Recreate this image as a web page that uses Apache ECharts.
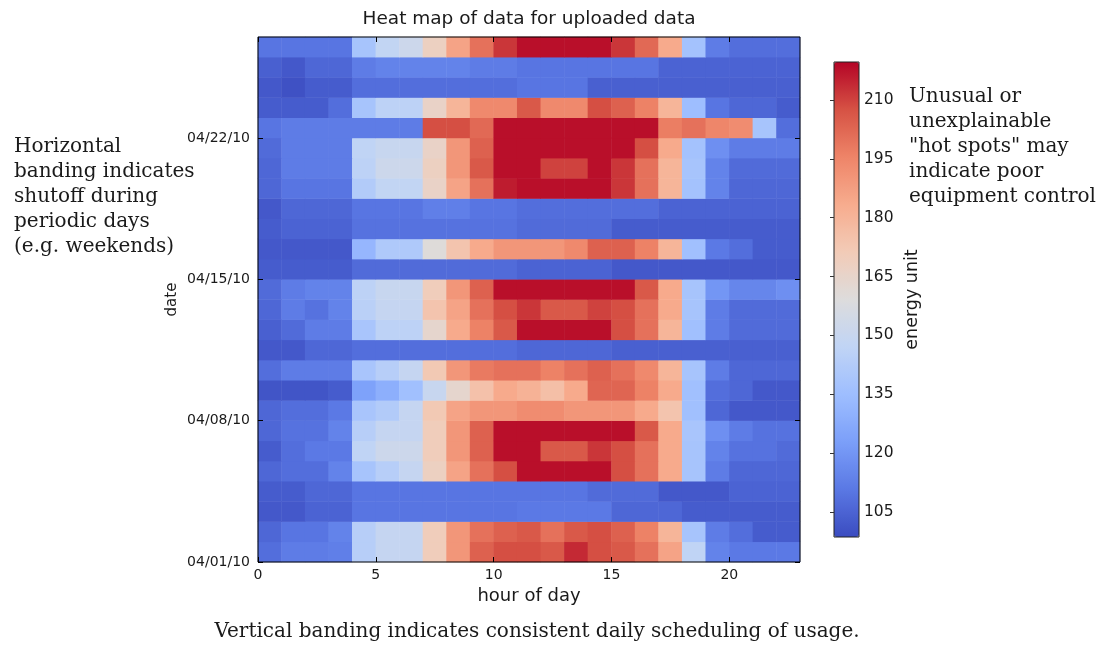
<!DOCTYPE html>
<html>
<head>
<meta charset="utf-8">
<script src="https://cdn.jsdelivr.net/npm/echarts@6/dist/echarts.min.js"></script>
<style>
  html, body { margin: 0; padding: 0; background: #fff; }
  #chart { width: 1102px; height: 645px; }
</style>
</head>
<body>
<div id="chart"></div>
<script>
// hour columns (0..22) and one row per day
const hours = [0, 1, 2, 3, 4, 5, 6, 7, 8, 9, 10, 11, 12, 13, 14, 15, 16, 17, 18, 19, 20, 21, 22];
const days = ["04/01/10", "04/02/10", "04/03/10", "04/04/10", "04/05/10", "04/06/10", "04/07/10",
  "04/08/10", "04/09/10", "04/10/10", "04/11/10", "04/12/10", "04/13/10", "04/14/10", "04/15/10",
  "04/16/10", "04/17/10", "04/18/10", "04/19/10", "04/20/10", "04/21/10", "04/22/10", "04/23/10",
  "04/24/10", "04/25/10", "04/26/10"];

// energy per hour, one row per day (bottom row first)
const energyByDay = [
  [108, 112, 112, 113, 144, 149, 149, 170, 190, 204, 208, 208, 206, 214, 208, 206, 200, 186, 147, 114, 111, 111, 111], // 04/01
  [106, 110, 110, 114, 144, 149, 149, 170, 190, 200, 204, 206, 200, 206, 208, 204, 196, 180, 138, 112, 108, 103, 103], // 04/02
  [102, 102, 105, 105, 110, 110, 110, 110, 110, 110, 110, 111, 111, 111, 111, 106, 106, 106, 103, 103, 103, 103, 103], // 04/03
  [103, 103, 106, 106, 110, 110, 110, 110, 110, 110, 110, 110, 110, 110, 107, 107, 107, 102, 102, 102, 105, 105, 105], // 04/04
  [106, 108, 108, 114, 138, 144, 149, 168, 186, 200, 208, 218, 218, 218, 218, 208, 200, 184, 138, 112, 106, 106, 106], // 04/05
  [103, 108, 111, 111, 147, 152, 152, 170, 190, 204, 218, 218, 206, 206, 212, 208, 200, 184, 138, 114, 109, 109, 107], // 04/06
  [106, 109, 109, 114, 144, 149, 149, 170, 190, 204, 218, 218, 218, 218, 218, 218, 206, 184, 139, 118, 112, 109, 109], // 04/07
  [106, 108, 108, 111, 139, 142, 149, 172, 186, 190, 190, 193, 193, 190, 190, 190, 184, 174, 136, 106, 102, 102, 102], // 04/08
  [101, 101, 101, 103, 124, 129, 136, 150, 164, 175, 184, 181, 176, 184, 203, 203, 196, 184, 136, 108, 106, 102, 102], // 04/09
  [108, 112, 112, 112, 139, 144, 149, 172, 190, 198, 200, 200, 196, 200, 204, 200, 194, 180, 138, 112, 106, 106, 106], // 04/10
  [102, 102, 106, 106, 108, 108, 108, 108, 108, 108, 108, 106, 106, 106, 106, 104, 104, 104, 104, 104, 104, 104, 104], // 04/11
  [104, 107, 112, 112, 139, 146, 146, 164, 184, 196, 206, 218, 218, 218, 218, 208, 200, 180, 136, 112, 107, 107, 107], // 04/12
  [106, 112, 109, 114, 145, 149, 149, 174, 186, 200, 208, 212, 206, 206, 210, 208, 200, 184, 138, 112, 107, 107, 107], // 04/13
  [107, 112, 114, 114, 146, 150, 150, 170, 190, 204, 218, 218, 218, 218, 218, 218, 206, 184, 138, 120, 115, 115, 118], // 04/14
  [103, 103, 103, 103, 107, 107, 107, 107, 107, 107, 107, 105, 105, 105, 105, 102, 102, 102, 102, 102, 102, 102, 102], // 04/15
  [102, 102, 102, 102, 132, 141, 141, 160, 174, 184, 190, 190, 190, 194, 204, 204, 196, 180, 136, 111, 108, 103, 103], // 04/16
  [103, 105, 105, 105, 109, 109, 109, 109, 109, 109, 109, 107, 107, 107, 107, 103, 103, 103, 103, 103, 103, 103, 103], // 04/17
  [102, 106, 106, 106, 110, 110, 110, 113, 113, 110, 110, 108, 108, 108, 108, 108, 108, 105, 105, 105, 105, 105, 105], // 04/18
  [106, 110, 110, 110, 142, 148, 148, 166, 186, 200, 216, 218, 218, 218, 218, 212, 200, 180, 137, 114, 106, 106, 106], // 04/19
  [106, 112, 112, 112, 146, 152, 152, 168, 190, 206, 218, 218, 210, 210, 218, 212, 200, 180, 138, 114, 107, 107, 107], // 04/20
  [107, 112, 112, 112, 147, 150, 150, 166, 190, 204, 218, 218, 218, 218, 218, 218, 208, 184, 137, 118, 112, 112, 112], // 04/21
  [110, 112, 112, 112, 112, 112, 112, 208, 208, 202, 218, 218, 218, 218, 218, 218, 218, 197, 200, 195, 193, 138, 108], // 04/22
  [103, 103, 103, 108, 138, 146, 146, 166, 180, 194, 194, 206, 194, 194, 208, 204, 196, 180, 135, 110, 106, 106, 103], // 04/23
  [102, 100, 103, 103, 108, 108, 108, 108, 108, 108, 108, 110, 110, 110, 104, 104, 104, 104, 104, 104, 104, 104, 104], // 04/24
  [104, 102, 106, 106, 112, 114, 114, 114, 114, 112, 112, 110, 110, 110, 110, 110, 110, 105, 105, 105, 105, 105, 105], // 04/25
  [110, 110, 110, 110, 138, 148, 152, 168, 186, 200, 212, 218, 218, 218, 218, 212, 202, 184, 137, 112, 108, 108, 108]  // 04/26
];

const hourTicks = [0, 5, 10, 15, 20];
const dateTickPos = [0, 7, 14, 21];
const dateTickLabels = ["04/01/10", "04/08/10", "04/15/10", "04/22/10"];
const colorTicks = [105, 120, 135, 150, 165, 180, 195, 210];
const colorMin = 98.6;
const colorMax = 219.7;

// matplotlib coolwarm
const coolwarm = ["#3b4cc0", "#5a78e4", "#7b9ff9", "#9ebeff", "#c0d4f5", "#dddcdc",
  "#f2cbb7", "#f7ac8e", "#ee8468", "#d65244", "#b40426"];

const cells = [];
energyByDay.forEach(function (row, d) {
  row.forEach(function (v, h) {
    cells.push([h, d, v]);
  });
});

const sans = "DejaVu Sans";
const serif = "DejaVu Serif";
const ink = "#1a1a1a";

function txt(x, y, text, font, align, extra) {
  return {
    type: "text",
    x: x,
    y: y,
    z: 20,
    style: Object.assign({
      text: text,
      font: font,
      fill: ink,
      textAlign: align,
      align: align,
      textVerticalAlign: "middle",
      verticalAlign: "middle"
    }, extra || {})
  };
}

const option = {
  animation: false,
  backgroundColor: "#fff",
  grid: [
    { left: 258, top: 37, width: 542, height: 525, show: true, z: 10,
      borderColor: "#000", borderWidth: 1, backgroundColor: "transparent" },
    { left: 834, top: 62, width: 25, height: 475, show: true, z: 10,
      borderColor: "#222", borderWidth: 1, backgroundColor: "transparent" }
  ],
  xAxis: [
    { type: "category", gridIndex: 0, data: hours, show: false },
    {
      type: "value", gridIndex: 0, position: "bottom", min: 0, max: 23, interval: 5, z: 10,
      name: "hour of day", nameLocation: "middle", nameGap: 21,
      nameTextStyle: { fontFamily: sans, fontSize: 18, color: ink },
      axisLine: { show: false },
      splitLine: { show: false },
      axisTick: { inside: true, length: 5, lineStyle: { color: "#000" }, customValues: hourTicks },
      axisLabel: { fontFamily: sans, fontSize: 14, color: ink, margin: 6, customValues: hourTicks }
    },
    {
      type: "value", gridIndex: 0, position: "top", min: 0, max: 23, interval: 5, z: 10,
      axisLine: { show: false },
      splitLine: { show: false },
      axisTick: { inside: true, length: 5, lineStyle: { color: "#000" }, customValues: hourTicks },
      axisLabel: { show: false }
    },
    { type: "value", gridIndex: 1, min: 0, max: 1, show: false }
  ],
  yAxis: [
    { type: "category", gridIndex: 0, data: days, show: false },
    {
      type: "value", gridIndex: 0, position: "left", min: 0, max: 26, interval: 7, z: 10,
      name: "date", nameLocation: "middle", nameGap: 78, nameRotate: 90,
      nameTextStyle: { fontFamily: sans, fontSize: 15, color: ink },
      axisLine: { show: false },
      splitLine: { show: false },
      axisTick: { inside: true, length: 5, lineStyle: { color: "#000" }, customValues: dateTickPos },
      axisLabel: {
        fontFamily: sans, fontSize: 14, color: ink, margin: 8, customValues: dateTickPos,
        formatter: function (v) {
          const i = dateTickPos.indexOf(v);
          return i >= 0 ? dateTickLabels[i] : "";
        }
      }
    },
    {
      type: "value", gridIndex: 0, position: "right", min: 0, max: 26, interval: 7, z: 10,
      axisLine: { show: false },
      splitLine: { show: false },
      axisTick: { inside: true, length: 5, lineStyle: { color: "#000" }, customValues: dateTickPos },
      axisLabel: { show: false }
    },
    {
      type: "value", gridIndex: 1, position: "right", min: colorMin, max: colorMax, z: 10,
      name: "energy unit", nameLocation: "middle", nameGap: 44, nameRotate: 90,
      nameTextStyle: { fontFamily: sans, fontSize: 17.5, color: ink },
      axisLine: { show: false },
      splitLine: { show: false },
      axisTick: { inside: true, length: 4, lineStyle: { color: "#333" }, customValues: colorTicks },
      axisLabel: { fontFamily: sans, fontSize: 15.5, color: ink, margin: 5, customValues: colorTicks }
    }
  ],
  visualMap: {
    type: "continuous",
    seriesIndex: 0,
    min: colorMin,
    max: colorMax,
    calculable: false,
    orient: "vertical",
    left: 834,
    top: 62,
    itemWidth: 25,
    itemHeight: 475,
    padding: 0,
    text: null,
    showLabel: false,
    inRange: { color: coolwarm }
  },
  series: [
    {
      type: "heatmap",
      xAxisIndex: 0,
      yAxisIndex: 0,
      data: cells,
      itemStyle: { borderWidth: 0 },
      emphasis: { disabled: true }
    }
  ],
  graphic: [
    txt(529, 19, "Heat map of data for uploaded data", "18.5px " + sans, "center"),
    txt(14, 197, "Horizontal\nbanding indicates\nshutoff during\nperiodic days\n(e.g. weekends)",
      "20px " + serif, "left", { lineHeight: 25 }),
    txt(909, 147, "Unusual or\nunexplainable\n\"hot spots\" may\nindicate poor\nequipment control",
      "20px " + serif, "left", { lineHeight: 25 }),
    txt(537, 632, "Vertical banding indicates consistent daily scheduling of usage.",
      "20px " + serif, "center")
  ]
};

const chart = echarts.init(document.getElementById("chart"));
chart.setOption(option);
</script>
</body>
</html>
